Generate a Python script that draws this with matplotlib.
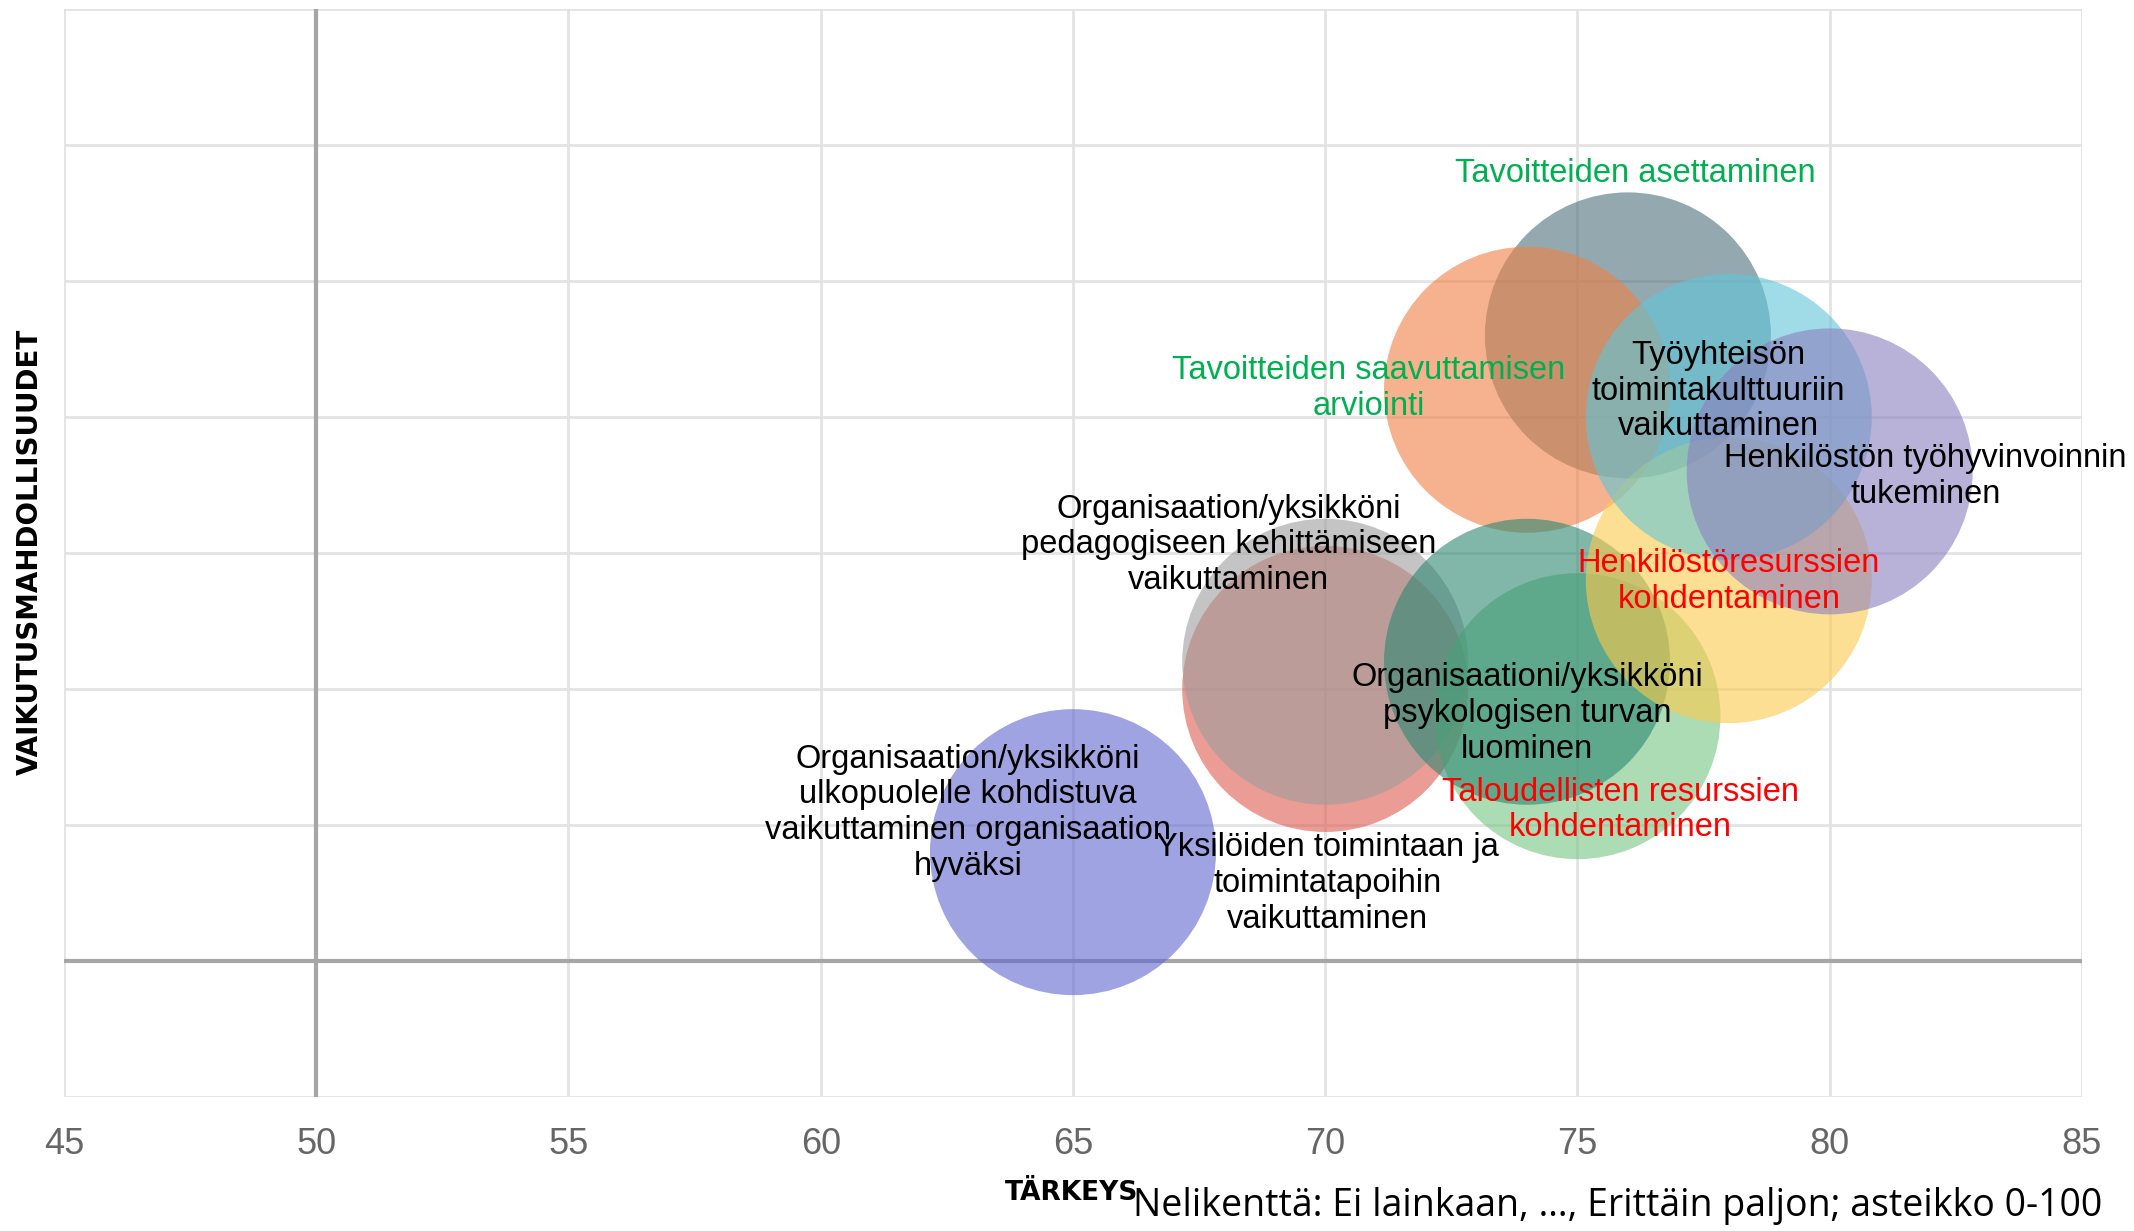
import matplotlib
matplotlib.use("Agg")
import matplotlib.pyplot as plt

# importance (x) and influence possibilities (y), scale 0-100
labels = [
    "Tavoitteiden asettaminen",
    "Tavoitteiden saavuttamisen\narviointi",
    "Yksilöiden toimintaan ja\ntoimintatapoihin\nvaikuttaminen",
    "Organisaation/yksikköni\npedagogiseen kehittämiseen\nvaikuttaminen",
    "Organisaation/yksikköni\nulkopuolelle kohdistuva\nvaikuttaminen organisaation\nhyväksi",
    "Taloudellisten resurssien\nkohdentaminen",
    "Organisaationi/yksikköni\npsykologisen turvan\nluominen",
    "Henkilöstöresurssien\nkohdentaminen",
    "Työyhteisön\ntoimintakulttuuriin\nvaikuttaminen",
    "Henkilöstön työhyvinvoinnin\ntukeminen",
]
tarkeys = [76, 74, 70, 70, 65, 75, 74, 78, 78, 80]
vaikutus = [73, 71, 60, 61, 54, 59, 61, 64, 70, 68]

bubble_colors = ["#4d707b", "#f08043", "#de5a4d", "#9d9d9d", "#6166d0",
                 "#75c582", "#2b8771", "#fdca4b", "#5fc6d9", "#8a80be"]
text_colors = ["#00b050", "#00b050", "black", "black", "black",
               "red", "black", "red", "black", "black"]
# label placement (data coords), set by hand like the original
label_pos = [(76.15, 78.95), (70.86, 71.05), (70.05, 52.85), (68.08, 65.3),
             (62.92, 55.45), (75.85, 55.55), (74.0, 59.1), (78.0, 63.95),
             (77.8, 70.95), (81.9, 67.8)]

FONT = ["Liberation Sans", "DejaVu Sans"]

fig = plt.figure(figsize=(21.34, 12.31), dpi=100)
ax = fig.add_axes([0.030, 0.1089, 0.9456, 0.8838])
ax.set_axisbelow(True)

ax.scatter(tarkeys, vaikutus, s=42400, c=bubble_colors, alpha=0.6,
           linewidths=0, zorder=3)

for lab, (lx, ly), tc in zip(labels, label_pos, text_colors):
    ax.text(lx, ly, lab, ha="center", va="center", color=tc, fontsize=23.5,
            family=FONT, linespacing=1.2, zorder=5, clip_on=False)

ax.set_xlim(45, 85)
ax.set_ylim(45, 85)
ax.set_xticks(range(45, 86, 5))
ax.set_yticks(range(45, 86, 5))
ax.tick_params(axis="y", left=False, labelleft=False)
ax.tick_params(axis="x", bottom=False, labelsize=26, labelcolor="#666666", pad=18)
for t in ax.get_xticklabels():
    t.set_family(FONT)
ax.grid(True, color="#e3e3e3", lw=2)
for s in ax.spines.values():
    s.set_visible(False)
ax.axvline(50, color="#a6a6a6", lw=3, zorder=2)
ax.axhline(50, color="#a6a6a6", lw=3, zorder=2)

fig.text(0.0141, 0.552, "VAIKUTUSMAHDOLLISUUDET", rotation=90, ha="center",
         va="center", fontsize=20, weight="bold",
         family=["Liberation Sans Narrow", "DejaVu Sans"])
fig.text(0.502, 0.031, "TÄRKEYS", ha="center", va="center", fontsize=19,
         weight="bold", family=["Liberation Sans Narrow", "DejaVu Sans"])
fig.text(0.985, 0.020, "Nelikenttä: Ei lainkaan, …, Erittäin paljon; asteikko 0-100",
         ha="right", va="center", fontsize=27, family=["Open Sans", "DejaVu Sans"])

fig.savefig("out.png", dpi=100)
